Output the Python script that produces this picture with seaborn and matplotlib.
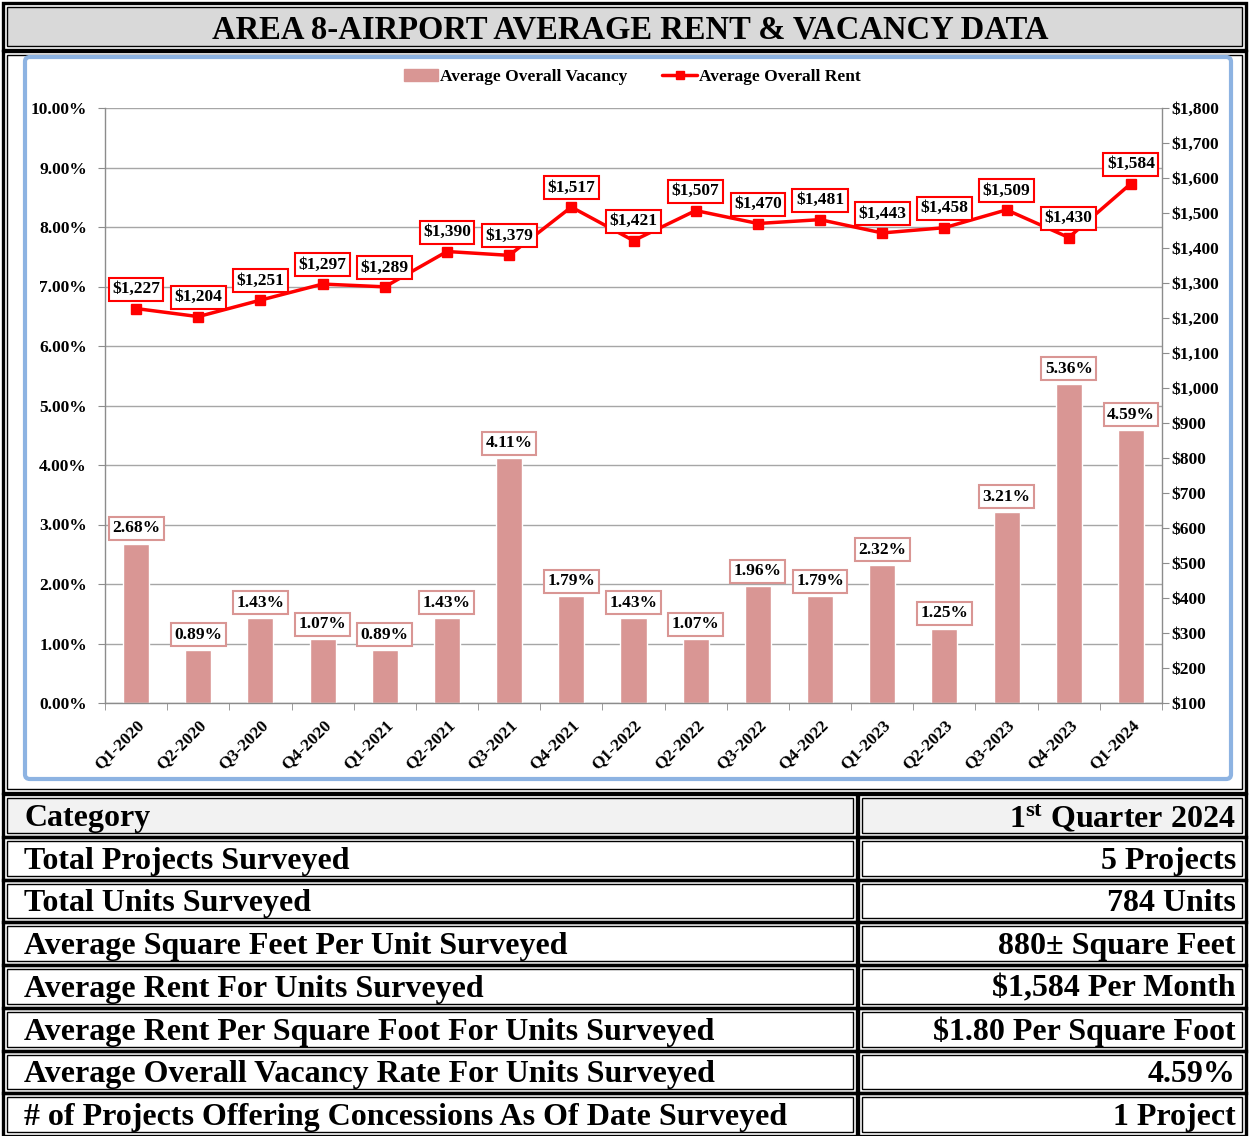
import numpy as np
import matplotlib
matplotlib.use("Agg")
import matplotlib.pyplot as plt
from matplotlib.patches import Rectangle, FancyBboxPatch, Patch
from matplotlib.lines import Line2D
from matplotlib.ticker import FuncFormatter, MultipleLocator, FixedLocator
import seaborn as sns

# ---------------- data ----------------
quarters = ["Q1-2020", "Q2-2020", "Q3-2020", "Q4-2020", "Q1-2021", "Q2-2021",
            "Q3-2021", "Q4-2021", "Q1-2022", "Q2-2022", "Q3-2022", "Q4-2022",
            "Q1-2023", "Q2-2023", "Q3-2023", "Q4-2023", "Q1-2024"]
vacancy = [2.68, 0.89, 1.43, 1.07, 0.89, 1.43, 4.11, 1.79, 1.43, 1.07,
           1.96, 1.79, 2.32, 1.25, 3.21, 5.36, 4.59]
rent = [1227, 1204, 1251, 1297, 1289, 1390, 1379, 1517, 1421, 1507,
        1470, 1481, 1443, 1458, 1509, 1430, 1584]

title = "AREA 8-AIRPORT AVERAGE RENT & VACANCY DATA"
table_labels = ["Category", "Total Projects Surveyed", "Total Units Surveyed",
                "Average Square Feet Per Unit Surveyed",
                "Average Rent For Units Surveyed",
                "Average Rent Per Square Foot For Units Surveyed",
                "Average Overall Vacancy Rate For Units Surveyed",
                "# of Projects Offering Concessions As Of Date Surveyed"]
table_values = ["1$^{\\mathrm{st}}$ Quarter 2024", "5 Projects", "784 Units",
                "880\u00b1 Square Feet", "$1,584 Per Month",
                "$1.80 Per Square Foot", "4.59%", "1 Project"]

# ---------------- style ----------------
sns.set_style("white")
plt.rcParams["font.family"] = ["Liberation Serif", "DejaVu Serif"]
plt.rcParams["font.weight"] = "bold"
plt.rcParams["mathtext.fontset"] = "custom"
plt.rcParams["mathtext.rm"] = "Liberation Serif:bold"
plt.rcParams["mathtext.it"] = "Liberation Serif:bold"
plt.rcParams["mathtext.bf"] = "Liberation Serif:bold"
for key in ("text.color", "axes.labelcolor", "xtick.labelcolor", "ytick.labelcolor"):
    plt.rcParams[key] = "black"

W, H = 1249, 1136
fig = plt.figure(figsize=(W / 100, H / 100), dpi=100)


def fx(x):
    return x / W


def fy(y):
    return 1 - y / H


def double_box(x0, y0, x1, y1, fill="none"):
    fig.add_artist(Rectangle((fx(x0), fy(y1)), (x1 - x0) / W, (y1 - y0) / H,
                             transform=fig.transFigure, lw=2.4,
                             edgecolor="black", facecolor="none"))
    fig.add_artist(Rectangle((fx(x0 + 4), fy(y1 - 4)), (x1 - x0 - 8) / W,
                             (y1 - y0 - 8) / H, transform=fig.transFigure,
                             lw=1.0, edgecolor="black", facecolor=fill))


# title cell
double_box(3, 3, 1246, 50, fill="#d9d9d9")
fig.text(fx(630), fy(30), title, ha="center", va="center", fontsize=23.5,
         fontweight="bold")

# chart cell
double_box(3, 51, 1246, 793)
fig.add_artist(FancyBboxPatch((fx(25), fy(779)), (1231 - 25) / W, (779 - 57) / H,
                              boxstyle="round,pad=0,rounding_size=0.004",
                              transform=fig.transFigure, lw=3,
                              edgecolor="#8db3e2", facecolor="white"))

# table
top, rh = 794, 42.75
for k, (lab, val) in enumerate(zip(table_labels, table_values)):
    y0 = top + k * rh
    y1 = y0 + rh
    fill = "#f2f2f2" if k == 0 else "white"
    double_box(3, y0, 857, y1, fill=fill)
    double_box(858, y0, 1246, y1, fill=fill)
    yc = (y0 + y1) / 2 + 3
    fig.text(fx(24), fy(yc), lab, ha="left", va="center", fontsize=23,
             fontweight="bold")
    fig.text(fx(1236), fy(yc), val, ha="right", va="center", fontsize=23,
             fontweight="bold")

# ---------------- chart ----------------
ax1 = fig.add_axes([fx(105), fy(703), (1162 - 105) / W, (703 - 108) / H])
ax1.set_zorder(2)
ax1.patch.set_alpha(0)

bar_color = "#d99694"
sns.barplot(x=quarters, y=vacancy, color=bar_color, width=0.42,
            saturation=1, ax=ax1)
ax1.set_ylim(0, 10)
ax1.set_xlim(-0.5, len(quarters) - 0.5)
ax1.yaxis.set_major_locator(MultipleLocator(1))
ax1.yaxis.set_major_formatter(FuncFormatter(lambda v, p: f"{v:.2f}%"))
ax1.grid(axis="y", color="#a6a6a6", lw=1)
ax1.set_axisbelow(True)
ax1.set_xlabel("")
ax1.set_ylabel("")

ax2 = ax1.twinx()
ax2.plot(np.arange(len(rent)), rent, color="#ff0000", lw=2.5, marker="s",
         markersize=7, zorder=3)
ax2.set_ylim(100, 1800)
ax2.yaxis.set_major_locator(MultipleLocator(100))
ax2.yaxis.set_major_formatter(FuncFormatter(lambda v, p: f"${v:,.0f}"))

for ax in (ax1, ax2):
    for s in ax.spines.values():
        s.set_visible(False)
ax1.spines["left"].set_visible(True)
ax1.spines["bottom"].set_visible(True)
ax2.spines["right"].set_visible(True)
for s in (ax1.spines["left"], ax1.spines["bottom"], ax2.spines["right"]):
    s.set_color("#8c8c8c")
    s.set_linewidth(1)

ax1.tick_params(axis="y", which="both", direction="out", length=5,
                color="#8c8c8c", labelsize=12.5, pad=8, left=True)
ax2.tick_params(axis="y", direction="out", length=5, color="#8c8c8c",
                labelsize=12.5, pad=2, right=True)

# x axis: labels at centres, tick marks between categories
ax1.set_xticks(np.arange(len(quarters)))
ax1.set_xticklabels(quarters, rotation=45, ha="right", rotation_mode="anchor",
                    fontsize=12.5, fontweight="bold")
ax1.xaxis.set_minor_locator(FixedLocator(np.arange(-0.5, len(quarters), 1)))
ax1.tick_params(axis="x", which="major", length=0, pad=10)
ax1.tick_params(axis="x", which="minor", length=5, direction="out",
                color="#8c8c8c", bottom=True)

# data labels
for i, v in enumerate(vacancy):
    ax1.annotate(f"{v:.2f}%", (i, v), xytext=(0, 11), textcoords="offset points",
                 ha="center", va="center", fontsize=12.5, fontweight="bold",
                 bbox=dict(boxstyle="square,pad=0.2", fc="white",
                           ec=bar_color, lw=1.5), zorder=5)
for i, r in enumerate(rent):
    ax2.annotate(f"${r:,}", (i, r), xytext=(0, 14), textcoords="offset points",
                 ha="center", va="center", fontsize=12.5, fontweight="bold",
                 bbox=dict(boxstyle="square,pad=0.2", fc="white",
                           ec="#ff0000", lw=1.5), zorder=5)

# legend
handles = [Patch(facecolor=bar_color, edgecolor=bar_color),
           Line2D([], [], color="#ff0000", lw=2.5, marker="s", markersize=6)]
fig.legend(handles, ["Average Overall Vacancy", "Average Overall Rent"],
           loc="center", bbox_to_anchor=(fx(632), fy(77)), ncol=2,
           frameon=False, handlelength=2.0, columnspacing=2.0,
           handletextpad=0.1, prop={"weight": "bold", "size": 12.5})

fig.savefig("out.png", dpi=100)
